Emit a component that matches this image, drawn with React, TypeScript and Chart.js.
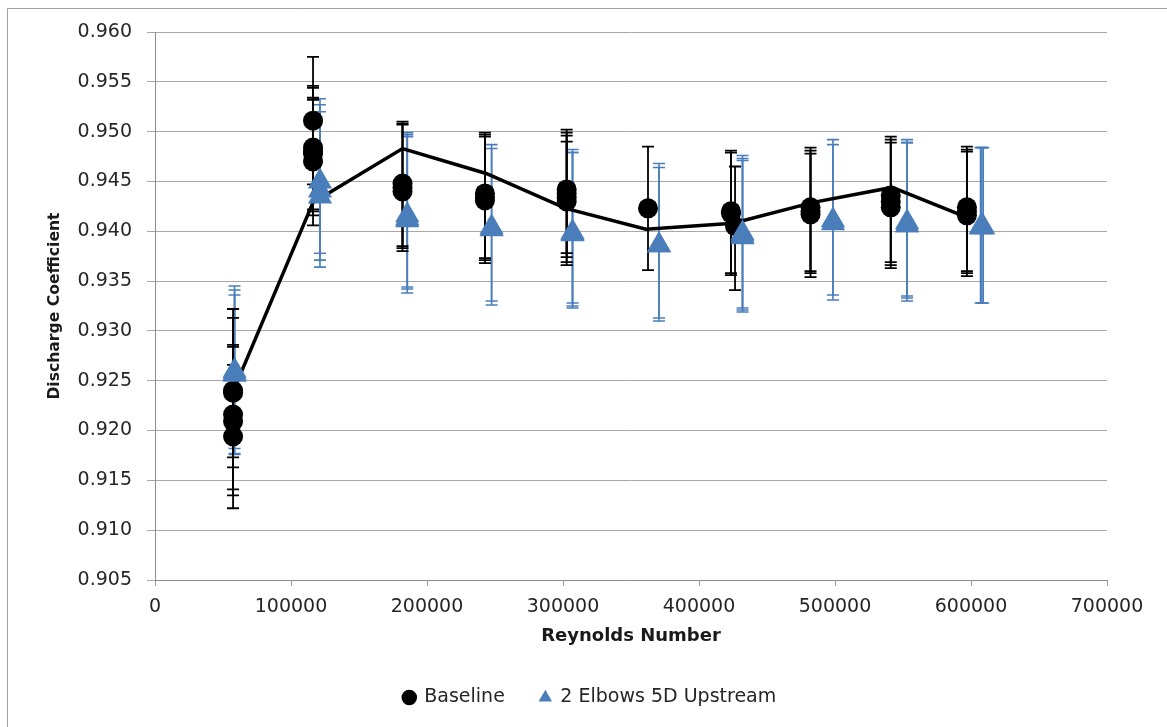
import React, { useEffect, useRef } from 'react';
import { Chart, registerables } from 'chart.js';

Chart.register(...registerables);

// ---- axis ticks ----
const xTicks = [0, 100000, 200000, 300000, 400000, 500000, 600000, 700000];
const yTicks = [0.905, 0.91, 0.915, 0.92, 0.925, 0.93, 0.935, 0.94, 0.945, 0.95, 0.955, 0.96];

// ---- Baseline (black circles) ----
const baseRe = [
  57400, 57400, 57400, 57400, 57400,
  116200, 116200, 116200, 116200, 116200,
  182000, 182000, 182000,
  242600, 242600, 242600,
  302700, 302700, 302700, 302700,
  362500,
  423500, 423500, 426500,
  482000, 482000, 482000,
  541000, 541000, 541000,
  597000, 597000, 597000,
];
const baseCd = [
  0.924, 0.9238, 0.9216, 0.9209, 0.9194,
  0.9511, 0.9484, 0.948, 0.9478, 0.947,
  0.9448, 0.9444, 0.944,
  0.9438, 0.9434, 0.9431,
  0.9442, 0.9438, 0.9434, 0.943,
  0.9423,
  0.942, 0.9418, 0.9405,
  0.9424, 0.942, 0.9417,
  0.9436, 0.943, 0.9424,
  0.9424, 0.942, 0.9416,
];
const baseLo = [
  0.9173, 0.9163, 0.9141, 0.9135, 0.9122,
  0.9447, 0.9422, 0.9416, 0.942, 0.9406,
  0.9385, 0.9383, 0.938,
  0.9373, 0.9371, 0.9368,
  0.9378, 0.9374, 0.9369, 0.9366,
  0.9361,
  0.9358, 0.9356, 0.9341,
  0.936, 0.9358, 0.9354,
  0.9369, 0.9366, 0.9363,
  0.936, 0.9358, 0.9355,
];
const baseHi = [
  0.9322, 0.9313, 0.9286, 0.9284, 0.9266,
  0.9575, 0.9546, 0.9544, 0.9532, 0.9534,
  0.951, 0.9508, 0.9507,
  0.9499, 0.9497, 0.9495,
  0.9502, 0.9499, 0.9496, 0.949,
  0.9485,
  0.9481, 0.9479, 0.9465,
  0.9484, 0.9481, 0.9478,
  0.9495, 0.9492, 0.9489,
  0.9485, 0.9482, 0.948,
];

// ---- 2 Elbows 5D Upstream (blue triangles) ----
const elbRe = [
  58500, 58500, 58500,
  121300, 121300, 121300,
  185500, 185500, 185500,
  247500, 247500,
  307000, 307000, 307000,
  370600, 370600,
  432000, 432000, 432000,
  498500, 498500,
  553000, 553000, 553000,
  607000, 608000, 609000,
];
const elbCd = [
  0.926, 0.9258, 0.9256,
  0.945, 0.9441, 0.9435,
  0.9416, 0.9413, 0.9411,
  0.9404, 0.9402,
  0.9399, 0.9398, 0.9397,
  0.9386, 0.9386,
  0.9398, 0.9396, 0.9394,
  0.9411, 0.9408,
  0.9409, 0.9406, 0.9406,
  0.9404, 0.9404, 0.9404,
];
const elbLo = [
  0.9177, 0.9182, 0.9176,
  0.9364, 0.9371, 0.9378,
  0.9344, 0.9342, 0.9338,
  0.933, 0.9326,
  0.9328, 0.9325, 0.9323,
  0.9313, 0.931,
  0.9323, 0.9321, 0.9319,
  0.9336, 0.9331,
  0.9335, 0.9333, 0.933,
  0.9328, 0.9328, 0.9328,
];
const elbHi = [
  0.9345, 0.9341, 0.9336,
  0.9533, 0.9527, 0.952,
  0.9499, 0.9497, 0.9495,
  0.9487, 0.9483,
  0.9482, 0.9479, 0.9479,
  0.9468, 0.9464,
  0.9476, 0.9473, 0.9471,
  0.9492, 0.9487,
  0.9492, 0.9489, 0.9489,
  0.9484, 0.9484, 0.9484,
];

// ---- trend line ----
const lineRe = [57400, 116200, 182000, 243500, 302000, 361000, 425000, 484000, 542000, 597000];
const lineCd = [0.9239, 0.9429, 0.9483, 0.9458, 0.9423, 0.9402, 0.9408, 0.9429, 0.9444, 0.9414];

const FONT = "'DejaVu Sans', sans-serif";
const BLUE = '#4a7ebb';
const TEXT = '#262626';

const errorBarPlugin = {
  id: 'errorBars',
  beforeDatasetsDraw(chart: any) {
    const { ctx } = chart;
    const xs = chart.scales.x;
    const ys = chart.scales.y;
    const draw = (re: number[], lo: number[], hi: number[], color: string, w: number, cap: number) => {
      ctx.save();
      ctx.strokeStyle = color;
      ctx.lineWidth = w;
      for (let i = 0; i < re.length; i++) {
        const px = xs.getPixelForValue(re[i]);
        const pl = ys.getPixelForValue(lo[i]);
        const ph = ys.getPixelForValue(hi[i]);
        ctx.beginPath();
        ctx.moveTo(px, pl);
        ctx.lineTo(px, ph);
        ctx.moveTo(px - cap, pl);
        ctx.lineTo(px + cap, pl);
        ctx.moveTo(px - cap, ph);
        ctx.lineTo(px + cap, ph);
        ctx.stroke();
      }
      ctx.restore();
    };
    draw(elbRe, elbLo, elbHi, BLUE, 1.6, 6);
    draw(baseRe, baseLo, baseHi, '#000000', 1.8, 6);
  },
};

const framePlugin = {
  id: 'frame',
  beforeDraw(chart: any) {
    const { ctx, width, height } = chart;
    ctx.save();
    ctx.fillStyle = '#ffffff';
    ctx.fillRect(0, 0, width, height);
    ctx.strokeStyle = '#a0a0a0';
    ctx.lineWidth = 1;
    ctx.beginPath();
    ctx.moveTo(7.5, height);
    ctx.lineTo(7.5, 8.5);
    ctx.lineTo(width, 8.5);
    ctx.stroke();
    ctx.restore();
  },
};

export default function App() {
  const ref = useRef<HTMLCanvasElement | null>(null);

  useEffect(() => {
    if (!ref.current) return;
    const chart = new Chart(ref.current, {
      type: 'scatter',
      data: {
        datasets: [
          {
            label: 'Baseline',
            data: baseRe.map((x, i) => ({ x, y: baseCd[i] })),
            pointStyle: 'circle',
            pointRadius: 10,
            pointHoverRadius: 10,
            backgroundColor: '#000000',
            borderColor: '#000000',
            borderWidth: 0,
            showLine: false,
            order: 1,
          },
          {
            label: '2 Elbows 5D Upstream',
            data: elbRe.map((x, i) => ({ x, y: elbCd[i] })),
            pointStyle: 'triangle',
            pointRadius: 14,
            pointHoverRadius: 14,
            backgroundColor: BLUE,
            borderColor: BLUE,
            borderWidth: 0,
            showLine: false,
            order: 0,
          },
          {
            label: 'Trend',
            data: lineRe.map((x, i) => ({ x, y: lineCd[i] })),
            showLine: true,
            pointRadius: 0,
            pointHoverRadius: 0,
            borderColor: '#000000',
            backgroundColor: '#000000',
            borderWidth: 3.5,
            tension: 0,
            order: 2,
          },
        ],
      },
      options: {
        animation: false,
        responsive: false,
        events: [],
        layout: { padding: { left: 73, right: 60, top: 32, bottom: 14 } },
        plugins: {
          tooltip: { enabled: false },
          legend: {
            position: 'bottom',
            maxHeight: 60,
            labels: {
              usePointStyle: true,
              boxWidth: 11,
              boxHeight: 11,
              padding: 35,
              color: TEXT,
              font: { family: FONT, size: 19 },
              filter: (item: any) => item.datasetIndex < 2,
              sort: (a: any, b: any) => a.datasetIndex - b.datasetIndex,
            },
          },
        },
        scales: {
          x: {
            type: 'linear',
            min: 0,
            max: 700000,
            afterBuildTicks: (s: any) => {
              s.ticks = xTicks.map((v) => ({ value: v }));
            },
            afterFit: (s: any) => {
              s.height = 73;
            },
            ticks: {
              autoSkip: false,
              maxRotation: 0,
              padding: 10,
              color: TEXT,
              font: { family: FONT, size: 19 },
              callback: (v: any) => String(v),
            },
            grid: { drawOnChartArea: false, drawTicks: true, tickLength: 6, color: '#9a9a9a' },
            border: { color: '#8c8c8c', width: 1 },
            title: {
              display: true,
              text: 'Reynolds Number',
              color: '#1a1a1a',
              font: { family: FONT, size: 18, weight: 'bold', lineHeight: 1.2 },
              padding: { top: 0, bottom: 5.7 },
            },
          },
          y: {
            type: 'linear',
            min: 0.905,
            max: 0.96,
            afterBuildTicks: (s: any) => {
              s.ticks = yTicks.map((v) => ({ value: v }));
            },
            afterFit: (s: any) => {
              s.width = 82;
            },
            ticks: {
              autoSkip: false,
              padding: 15,
              color: TEXT,
              font: { family: FONT, size: 19 },
              callback: (v: any) => Number(v).toFixed(3),
            },
            grid: { color: '#a8a8a8', tickLength: 8, lineWidth: 1 },
            border: { color: '#8c8c8c', width: 1 },
            title: {
              display: true,
              text: 'Discharge Coefficient',
              color: '#1a1a1a',
              font: { family: FONT, size: 15.6, weight: 'bold', lineHeight: 1.2 },
              padding: { top: -27.4, bottom: 0 },
            },
          },
        },
      },
      plugins: [framePlugin, errorBarPlugin],
    } as any);
    return () => chart.destroy();
  }, []);

  return (
    <div style={{ position: 'absolute', left: 0, top: 0, width: 1167, height: 727 }}>
      <canvas ref={ref} width={1167} height={727} style={{ display: 'block' }} />
    </div>
  );
}
